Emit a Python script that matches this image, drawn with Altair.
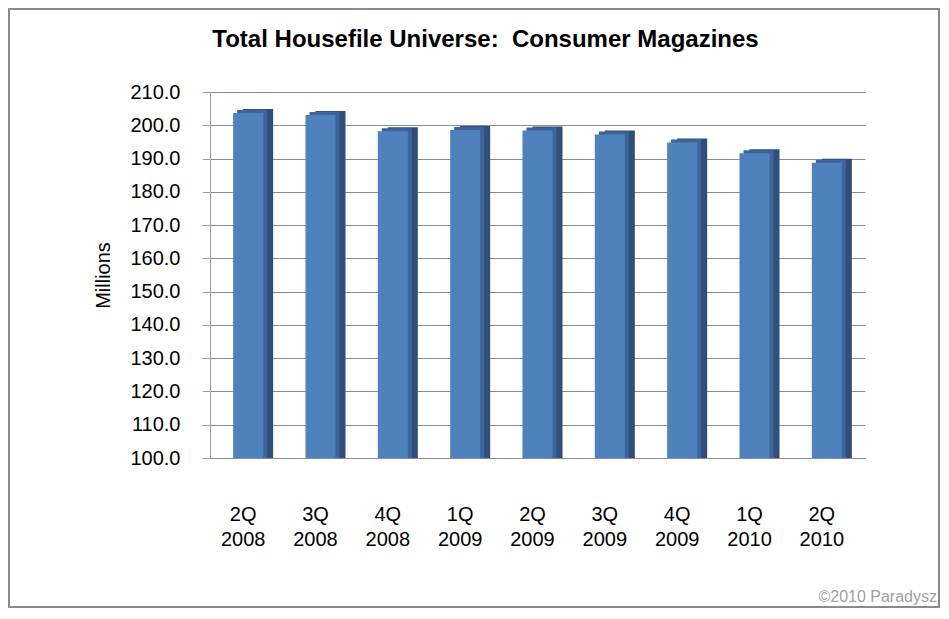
import altair as alt
import pandas as pd

# ---- data ----
quarters = ["2Q 2008", "3Q 2008", "4Q 2008", "1Q 2009", "2Q 2009",
            "3Q 2009", "4Q 2009", "1Q 2010", "2Q 2010"]
values = [203.7, 203.1, 198.2, 198.6, 198.4, 197.2, 194.8, 191.6, 188.7]
y_ticks = [100, 110, 120, 130, 140, 150, 160, 170, 180, 190, 200, 210]
title_text = "Total Housefile Universe:\u00a0 Consumer Magazines"
credit = ["\u00a92010 Paradysz"]

df = pd.DataFrame({"quarter": quarters, "value": values})

W, H = 655, 366
PL, PT, PR, PB = 202, 84, 75, 150
FONT = "Liberation Sans"

x_enc = alt.X(
    "quarter:N", sort=quarters,
    scale=alt.Scale(paddingInner=0.585, paddingOuter=0.32),
    axis=alt.Axis(labelExpr="split(datum.label, ' ')", labelAngle=0, ticks=False,
                  domain=False, labelFontSize=20, labelPadding=46, labelOffset=-5,
                  labelColor="#000000", labelLineHeight=25, title=None, grid=False),
)
y_enc = alt.Y(
    "value:Q",
    scale=alt.Scale(domain=[100, 210], nice=False, zero=False),
    axis=alt.Axis(values=y_ticks, format=".1f", title="Millions",
                  titleFontSize=20, titleFontWeight="normal", titleColor="#000000",
                  titlePadding=16, labelFontSize=20, labelColor="#000000",
                  labelPadding=22, tickSize=8, tickColor="#9a9a9a",
                  domainColor="#9a9a9a", grid=True, gridColor="#8c8c8c",
                  gridWidth=1),
)

base = alt.Chart(df).encode(x=x_enc, y=y_enc, y2=alt.datum(100))

side = base.mark_bar(color="#2f4f7a", xOffset=10, yOffset=-4)
top = base.mark_bar(color="#3d659b", xOffset=4, yOffset=-3)
front = base.mark_bar(color="#4f81bd")

credit_text = alt.Chart(pd.DataFrame({"t": credit})).mark_text(
    align="right", baseline="middle", fontSize=16, color="#a0a0a0", font=FONT
).encode(text="t:N", x=alt.value(W + 72), y=alt.value(H + 139))

border = alt.Chart(pd.DataFrame({"a": [0]})).mark_rect(
    fill=None, stroke="#8a8a8a", strokeWidth=2
).encode(x=alt.value(-PL + 1), x2=alt.value(W + PR - 1),
         y=alt.value(-PT + 1), y2=alt.value(H + PB - 1))

chart = alt.layer(border, side, top, front, credit_text).properties(
    width=W, height=H,
    title=alt.TitleParams(title_text, fontSize=24, fontWeight="bold", font=FONT,
                          color="#000000", anchor="middle", frame="group",
                          dx=-52, offset=-44),
    padding={"left": PL, "top": PT, "right": PR, "bottom": PB},
    autosize=alt.AutoSizeParams(type="none"),
).configure(font=FONT).configure_view(stroke=None).configure_axis(
    labelFont=FONT, titleFont=FONT
)

chart.save("out.html", embed_options={"renderer": "svg", "actions": False})
